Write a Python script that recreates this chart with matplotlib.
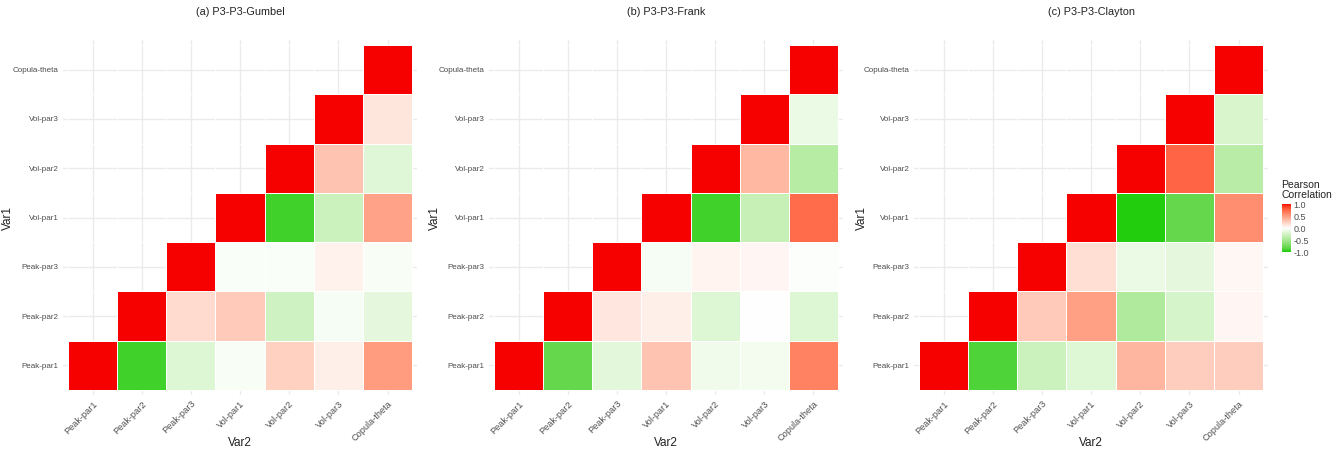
import numpy as np
import matplotlib
matplotlib.use("Agg")
import matplotlib.pyplot as plt
from matplotlib.colors import ListedColormap

plt.rcParams['font.family'] = ['Liberation Sans', 'DejaVu Sans']

labels = ["Peak-par1", "Peak-par2", "Peak-par3", "Vol-par1", "Vol-par2", "Vol-par3", "Copula-theta"]
titles = ["(a) P3-P3-Gumbel", "(b) P3-P3-Frank", "(c) P3-P3-Clayton"]

# upper triangles, row i = Var1 label i, values for Var2 columns i..6
gumbel = [
    [1.0, -0.92, -0.20, -0.04, 0.24, 0.08, 0.50],
    [1.0, 0.18, 0.27, -0.28, -0.05, -0.15],
    [1.0, -0.03, -0.03, 0.07, -0.04],
    [1.0, -0.92, -0.30, 0.47],
    [1.0, 0.30, -0.18],
    [1.0, 0.13],
    [1.0],
]
frank = [
    [1.0, -0.80, -0.17, 0.30, -0.09, -0.07, 0.62],
    [1.0, 0.12, 0.08, -0.20, 0.0, -0.20],
    [1.0, -0.05, 0.06, 0.05, -0.02],
    [1.0, -0.92, -0.33, 0.72],
    [1.0, 0.36, -0.42],
    [1.0, -0.12],
    [1.0],
]
clayton = [
    [1.0, -0.88, -0.30, -0.19, 0.37, 0.25, 0.25],
    [1.0, 0.27, 0.48, -0.45, -0.25, 0.05],
    [1.0, 0.17, -0.12, -0.15, 0.04],
    [1.0, -0.98, -0.80, 0.57],
    [1.0, 0.75, -0.40],
    [1.0, -0.23],
    [1.0],
]
panels = [gumbel, frank, clayton]


# colour scale interpolated in Lab space like ggplot's gradient2
def to_lab(rgb):
    c = np.array(rgb, dtype=float)
    c = np.where(c > 0.04045, ((c + 0.055) / 1.055) ** 2.4, c / 12.92)
    m = np.array([[0.4124, 0.3576, 0.1805], [0.2126, 0.7152, 0.0722], [0.0193, 0.1192, 0.9505]])
    xyz = m @ c / np.array([0.95047, 1.0, 1.08883])
    f = np.where(xyz > 0.008856, np.cbrt(xyz), 7.787 * xyz + 16 / 116)
    return np.array([116 * f[1] - 16, 500 * (f[0] - f[1]), 200 * (f[1] - f[2])])


def from_lab(lab):
    fy = (lab[0] + 16) / 116
    f = np.array([fy + lab[1] / 500, fy, fy - lab[2] / 200])
    xyz = np.where(f ** 3 > 0.008856, f ** 3, (f - 16 / 116) / 7.787) * np.array([0.95047, 1.0, 1.08883])
    m = np.array([[3.2406, -1.5372, -0.4986], [-0.9689, 1.8758, 0.0415], [0.0557, -0.2040, 1.0570]])
    c = m @ xyz
    c = np.where(c > 0.0031308, 1.055 * np.clip(c, 0, None) ** (1 / 2.4) - 0.055, 12.92 * c)
    return np.clip(c, 0, 1)


low = to_lab([0.08, 0.80, 0.0])
mid = to_lab([1.0, 1.0, 1.0])
high = to_lab([0.97, 0.0, 0.0])
cols = []
for t in np.linspace(-1, 1, 256):
    if t < 0:
        cols.append(from_lab(mid + (low - mid) * (-t)))
    else:
        cols.append(from_lab(mid + (high - mid) * t))
cmap = ListedColormap(cols)

fig = plt.figure(figsize=(13.38, 4.51), dpi=100)
W, H = 1338, 451
lefts = [63, 489, 914]
ylab_x = [8, 435, 862]
n = len(labels)

for k, data in enumerate(panels):
    ax = fig.add_axes([lefts[k] / W, 56 / H, 354 / W, 355 / H])
    mat = np.full((n, n), np.nan)
    for i, row in enumerate(data):
        for j, v in enumerate(row):
            mat[i, i + j] = v
    ax.set_axisbelow(True)
    ax.grid(True, color="#EBEBEB", linewidth=1.0, linestyle="-")
    ax.pcolormesh(np.arange(n + 1) - 0.5, np.arange(n + 1) - 0.5, np.ma.masked_invalid(mat),
                  cmap=cmap, vmin=-1, vmax=1, edgecolor="white", linewidth=0.4)
    ax.set_xlim(-0.6, n - 0.4)
    ax.set_ylim(-0.6, n - 0.4)
    ax.set_xticks(range(n))
    ax.set_yticks(range(n))
    ax.set_xticklabels(labels, rotation=45, ha="right", rotation_mode="anchor")
    ax.set_yticklabels(labels)
    ax.tick_params(length=0, labelcolor="#4D4D4D", pad=3)
    ax.tick_params(axis="x", labelsize=6.6)
    ax.tick_params(axis="y", labelsize=5.8)
    for s in ax.spines.values():
        s.set_visible(False)
    ax.set_xlabel("Var2", fontsize=8.5, color="#222222")
    ax.set_ylabel("Var1", fontsize=8.5, color="#222222")
    ax.xaxis.set_label_coords(0.5, -(443 - 395) / 355)
    ax.yaxis.set_label_coords(-(lefts[k] - ylab_x[k]) / 354, 0.5)
    ax.xaxis.label.set_va("center")
    ax.yaxis.label.set_va("center")
    ax.set_title(titles[k], fontsize=7.8, color="#222222", pad=18)

cax = fig.add_axes([1282 / W, (451 - 252) / H, 9 / W, 48 / H])
grad = np.linspace(-1, 1, 256).reshape(-1, 1)
cax.imshow(grad, cmap=cmap, aspect="auto", origin="lower", extent=[0, 1, -1, 1], vmin=-1, vmax=1)
cax.set_xticks([])
cax.yaxis.tick_right()
cax.set_yticks([-1, -0.5, 0, 0.5, 1])
cax.set_yticklabels(["-1.0", "-0.5", "0.0", "0.5", "1.0"])
cax.tick_params(axis="y", length=0, labelsize=6.5, labelcolor="#4D4D4D", pad=2)
for s in cax.spines.values():
    s.set_visible(False)
fig.text(1281 / W, 1 - 180 / H, "Pearson\nCorrelation", fontsize=7.5, color="#222222",
         va="top", ha="left", linespacing=1.0)

fig.savefig("out.png", dpi=100)
